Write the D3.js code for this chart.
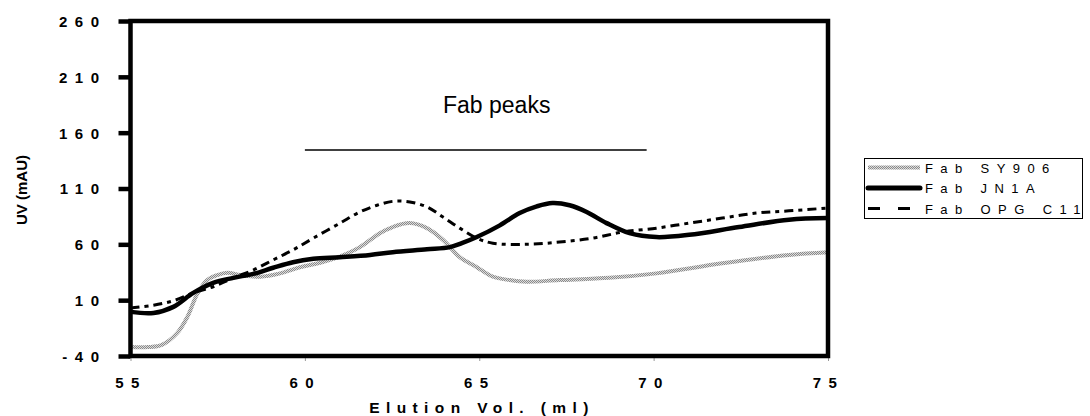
<!DOCTYPE html>
<html>
<head>
<meta charset="utf-8">
<script src="https://cdn.jsdelivr.net/npm/d3@7"></script>
<style>
  html, body { margin: 0; padding: 0; background: #fff; }
  svg { display: block; }
  text { font-family: "Liberation Sans", Arial, sans-serif; fill: #000; }
</style>
</head>
<body>
<svg id="chart" width="1090" height="416"></svg>
<script>
// Elution volume (ml) and UV absorbance (mAU) for each Fab trace
const sy906Vol = [55, 55.5, 55.9, 56.34, 56.63, 56.92, 57.2, 57.49, 57.78, 58.15, 58.72, 59.29, 59.86, 60.44, 61.0, 61.58, 62.15, 62.52, 63.0, 63.5, 63.96, 64.44, 64.93, 65.39, 65.87, 66.36, 67.3, 68.73, 70.08, 71.97, 73.88, 75];
const sy906UV  = [-32, -32, -30, -19.4, -5, 16, 28, 32.5, 34.5, 32.5, 31, 34, 39.5, 43.5, 49, 57.5, 70, 75.5, 79, 74.5, 64, 48.5, 39.5, 31, 28, 26.5, 28, 30, 34, 43, 50.5, 53];

const jn1aVol = [55, 55.66, 56.23, 56.8, 57.37, 57.95, 58.52, 59.09, 59.66, 60.24, 61.0, 61.87, 62.52, 63.5, 64.16, 64.5, 64.93, 65.59, 66.16, 66.65, 67.1, 67.59, 68.08, 68.65, 69.31, 70.08, 71.02, 72.45, 73.88, 75];
const jn1aUV  = [-0.5, -1.5, 4, 16.5, 25.5, 30, 33.5, 39, 44, 47, 48.5, 50.5, 53, 55.5, 57.5, 61, 66.5, 77, 88, 94, 97, 95, 89, 79, 70, 66.5, 68.5, 75.5, 82, 83.5];

const opgVol = [55, 55.66, 56.23, 56.8, 57.37, 57.95, 58.52, 59.09, 59.66, 60.24, 61.01, 61.58, 62.07, 62.52, 63.01, 63.5, 63.96, 64.44, 64.93, 65.39, 66.36, 67.3, 68.25, 69.11, 70.08, 71.02, 71.97, 72.94, 73.88, 75];
const opgUV  = [3, 5.5, 9.5, 16.5, 22, 30, 37, 46, 55, 65.5, 79, 89, 95, 98.5, 98, 93.5, 84.5, 74.5, 65.5, 61, 60, 62, 65.5, 71, 74.5, 79, 83.5, 88, 90, 92.5];

const seriesNames = ["Fab SY906", "Fab JN1A", "Fab OPG C11"];

const xTicks = [55, 60, 65, 70, 75];
const yTicks = [-40, 10, 60, 110, 160, 210, 260];

// Bracket over the Fab elution region
const peakText = "Fab peaks";
const peakRange = [60, 69.8];
const peakLevel = 144.5;
const peakTextAt = [65.5, 177.5];

const FONT = "\"Liberation Sans\", Arial, sans-serif";
const svg = d3.select("#chart");

const x = d3.scaleLinear().domain([55, 75]).range([130.5, 828]);
const y = d3.scaleLinear().domain([-40, 260]).range([356, 21]);

// Checkered grey stroke for the SY906 trace
const defs = svg.append("defs");
const pat = defs.append("pattern")
  .attr("id", "speckle")
  .attr("patternUnits", "userSpaceOnUse")
  .attr("width", 2).attr("height", 2);
pat.append("rect").attr("width", 2).attr("height", 2).attr("fill", "#dcdcdc");
pat.append("rect").attr("x", 0).attr("y", 0).attr("width", 1).attr("height", 1).attr("fill", "#8a8a8a");
pat.append("rect").attr("x", 1).attr("y", 1).attr("width", 1).attr("height", 1).attr("fill", "#8a8a8a");

const styles = [
  { stroke: "url(#speckle)", width: 4, dash: null },
  { stroke: "#000", width: 4.5, dash: null },
  { stroke: "#000", width: 3, dash: "9,5,4,5" }
];

const series = [
  sy906Vol.map((v, i) => [v, sy906UV[i]]),
  jn1aVol.map((v, i) => [v, jn1aUV[i]]),
  opgVol.map((v, i) => [v, opgUV[i]])
];

const line = d3.line()
  .x(d => x(d[0]))
  .y(d => y(d[1]))
  .curve(d3.curveCatmullRom.alpha(0.5));

const plot = svg.append("g");
series.forEach((pts, i) => {
  const s = styles[i];
  plot.append("path")
    .attr("d", line(pts))
    .attr("fill", "none")
    .attr("stroke", s.stroke)
    .attr("stroke-width", s.width)
    .attr("stroke-linejoin", "round")
    .attr("stroke-dasharray", s.dash);
});

// Annotation
svg.append("line")
  .attr("x1", x(peakRange[0])).attr("x2", x(peakRange[1]))
  .attr("y1", y(peakLevel)).attr("y2", y(peakLevel))
  .attr("stroke", "#000").attr("stroke-width", 1.5);
svg.append("text")
  .attr("x", x(peakTextAt[0])).attr("y", y(peakTextAt[1]))
  .attr("text-anchor", "middle")
  .style("font-size", "23px")
  .text(peakText);

// Y axis
const yAxis = svg.append("g")
  .attr("transform", `translate(${x(55)},0)`)
  .call(d3.axisLeft(y).tickValues(yTicks).tickSize(12).tickPadding(12).tickFormat(d => String(d)));
yAxis.select(".domain").remove();
yAxis.selectAll(".tick line").attr("stroke", "#000").attr("stroke-width", 4.5);
yAxis.selectAll(".tick text")
  .attr("dy", "0.36em")
  .style("font-size", "15px").style("font-weight", "bold")
  .style("letter-spacing", "7.5px")
  .style("font-family", FONT);

// X axis
const xAxis = svg.append("g")
  .attr("transform", `translate(0,${y(-40)})`)
  .call(d3.axisBottom(x).tickValues(xTicks).tickSize(5).tickFormat(d => String(d)));
xAxis.select(".domain").remove();
xAxis.selectAll(".tick line").attr("stroke", "#999").attr("stroke-width", 1);
xAxis.selectAll(".tick text")
  .attr("y", 31.5).attr("dy", 0)
  .style("font-size", "15px").style("font-weight", "bold")
  .style("letter-spacing", "7.5px")
  .style("font-family", FONT);

// Plot frame
svg.append("rect")
  .attr("x", x(55)).attr("y", y(260))
  .attr("width", x(75) - x(55)).attr("height", y(-40) - y(260))
  .attr("fill", "none").attr("stroke", "#000").attr("stroke-width", 4.5);

// Axis titles
svg.append("text")
  .attr("transform", "translate(27,190) rotate(-90)")
  .attr("text-anchor", "middle")
  .style("font-size", "15px").style("font-weight", "bold")
  .text("UV (mAU)");
svg.append("text")
  .attr("x", 482).attr("y", 413)
  .attr("text-anchor", "middle")
  .style("font-size", "15.5px").style("font-weight", "bold")
  .style("letter-spacing", "6.4px")
  .text("Elution Vol. (ml)");

// Legend
const legend = svg.append("g");
legend.append("rect")
  .attr("x", 864.5).attr("y", 158.5).attr("width", 218).attr("height", 60)
  .attr("fill", "#fff").attr("stroke", "#000").attr("stroke-width", 1);
const rowY = [167.5, 188, 208.5];
seriesNames.forEach((name, i) => {
  const s = styles[i];
  legend.append("line")
    .attr("x1", 868).attr("x2", 920)
    .attr("y1", rowY[i]).attr("y2", rowY[i])
    .attr("stroke", s.stroke)
    .attr("stroke-width", i === 1 ? 5 : (i === 2 ? 3 : 4))
    .attr("stroke-linecap", i === 1 ? "round" : "butt")
    .attr("stroke-dasharray", i === 2 ? "12,18" : null);
  legend.append("text")
    .attr("x", 925).attr("y", rowY[i] + 5)
    .style("font-size", "13px")
    .style("letter-spacing", "7.4px")
    .text(name);
});
</script>
</body>
</html>
